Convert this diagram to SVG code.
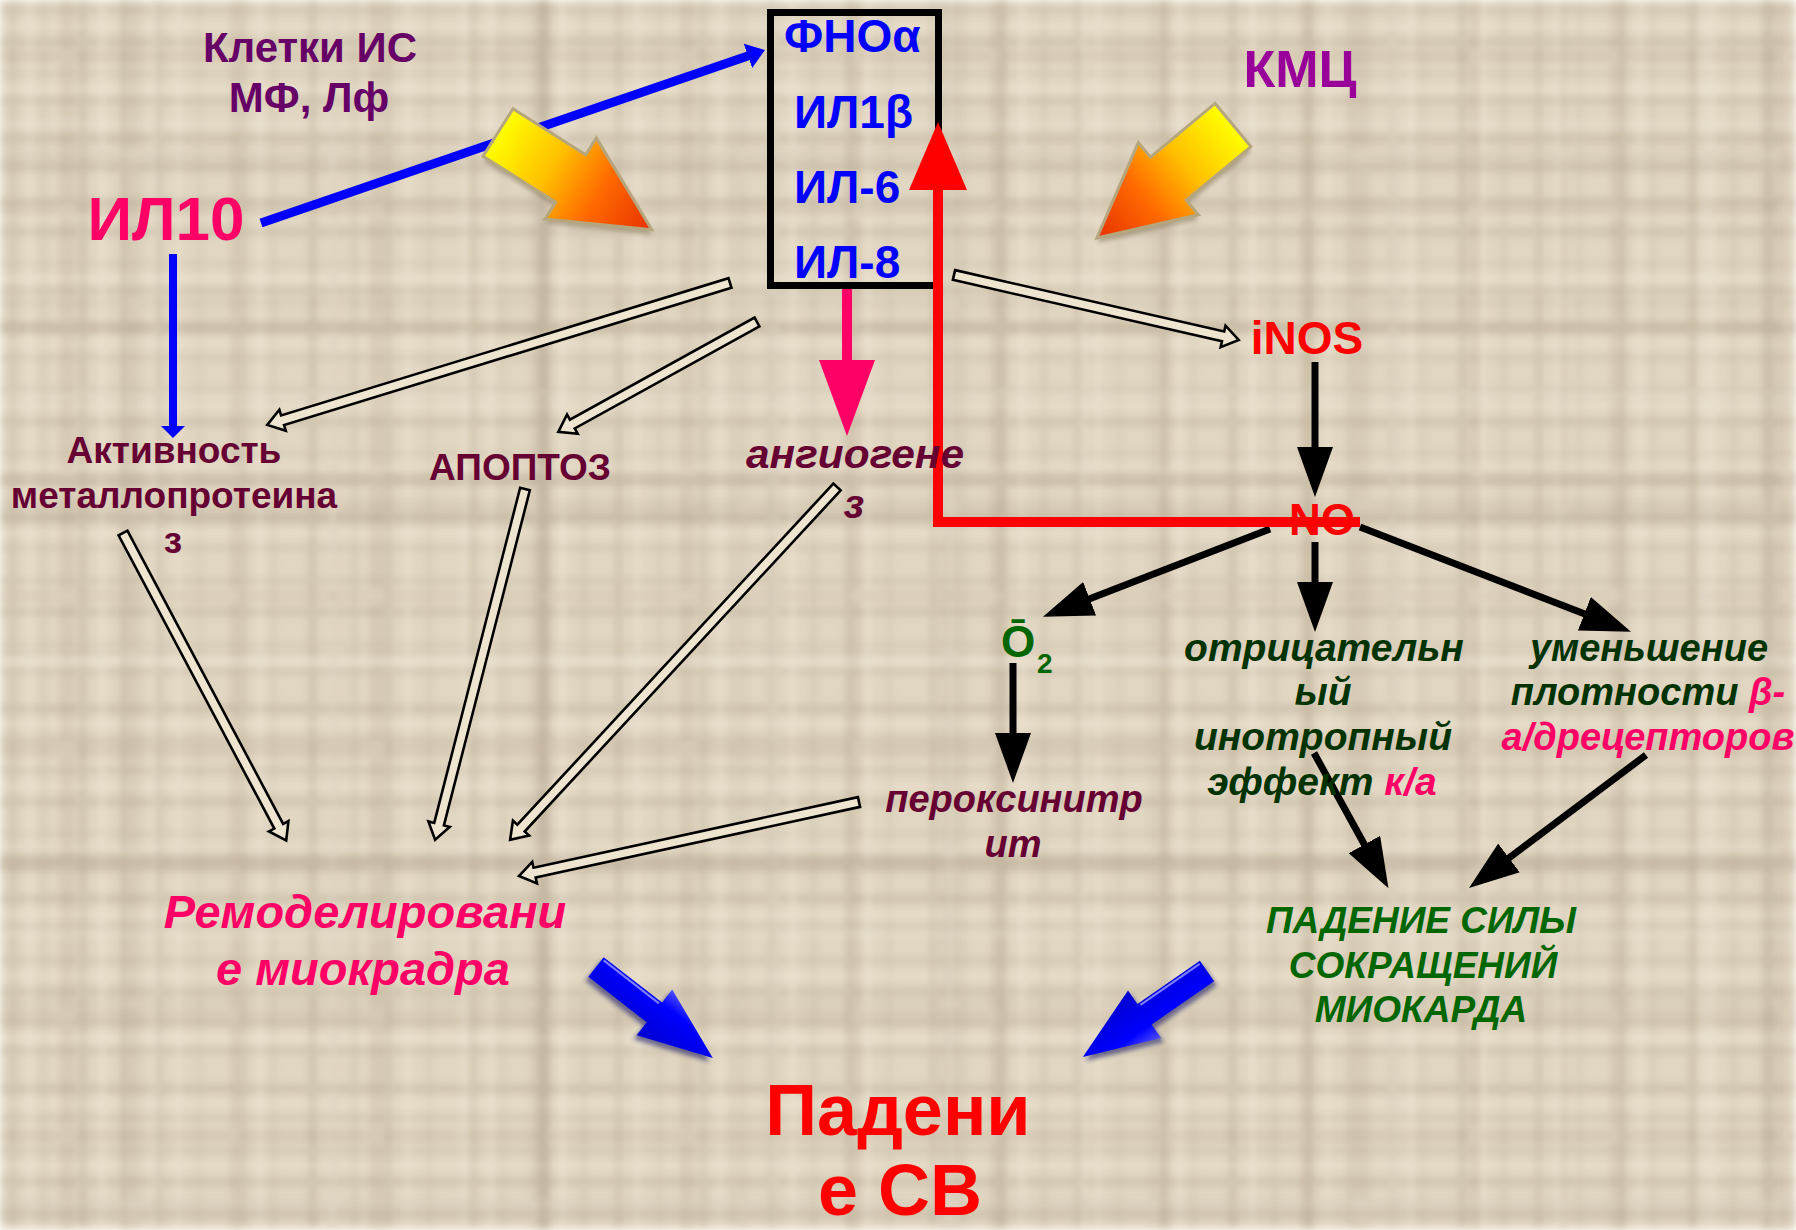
<svg xmlns="http://www.w3.org/2000/svg" width="1796" height="1230" viewBox="0 0 1796 1230">
<style>
text{font-family:"Liberation Sans",Arial,sans-serif;font-weight:bold}
.it{font-style:italic}
.mid{text-anchor:middle}
.hollow{fill:#EEE5D1;stroke:#000;stroke-width:2.6;stroke-linejoin:miter}
.blk{stroke:#000;stroke-width:7;fill:none}
</style>
<defs>
<pattern id="plaid" width="230" height="190" patternUnits="userSpaceOnUse">
<rect width="230" height="190" fill="#E1D6C1"/>
<g fill="#9F907A" opacity="0.26">
<rect x="10" y="0" width="6" height="190"/>
<rect x="42" y="0" width="3" height="190"/>
<rect x="78" y="0" width="9" height="190"/>
<rect x="122" y="0" width="4" height="190"/>
<rect x="155" y="0" width="7" height="190"/>
<rect x="198" y="0" width="3" height="190"/>
<rect x="0" y="8" width="230" height="5"/>
<rect x="0" y="38" width="230" height="8"/>
<rect x="0" y="72" width="230" height="3"/>
<rect x="0" y="98" width="230" height="6"/>
<rect x="0" y="134" width="230" height="9"/>
<rect x="0" y="166" width="230" height="4"/>
</g>
<g fill="#F4ECDD" opacity="0.5">
<rect x="28" y="0" width="4" height="190"/>
<rect x="100" y="0" width="5" height="190"/>
<rect x="176" y="0" width="4" height="190"/>
<rect x="0" y="24" width="230" height="4"/>
<rect x="0" y="86" width="230" height="5"/>
<rect x="0" y="152" width="230" height="4"/>
</g>
</pattern>
<pattern id="plaid2" width="310" height="270" patternUnits="userSpaceOnUse">
<g fill="#9E8F76" opacity="0.16">
<rect x="60" y="0" width="14" height="270"/>
<rect x="230" y="0" width="10" height="270"/>
<rect x="0" y="50" width="310" height="12"/>
<rect x="0" y="200" width="310" height="16"/>
</g>
<g fill="#F4ECDD" opacity="0.25">
<rect x="150" y="0" width="8" height="270"/>
<rect x="0" y="120" width="310" height="8"/>
</g>
</pattern>
<pattern id="plaid3" width="410" height="350" patternUnits="userSpaceOnUse">
<g fill="#8F8068" opacity="0.12">
<rect x="120" y="0" width="20" height="350"/>
<rect x="330" y="0" width="6" height="350"/>
<rect x="0" y="150" width="410" height="22"/>
<rect x="0" y="300" width="410" height="6"/>
</g>
</pattern>
<filter id="blur" x="0" y="0" width="1" height="1">
<feGaussianBlur stdDeviation="3.5"/>
</filter>
<filter id="soft" x="-20%" y="-20%" width="140%" height="140%">
<feGaussianBlur stdDeviation="2"/>
</filter>
<linearGradient id="fire" x1="0" y1="0" x2="1" y2="0">
<stop offset="0" stop-color="#FFFF00"/>
<stop offset="0.35" stop-color="#FFC000"/>
<stop offset="0.65" stop-color="#FF6A00"/>
<stop offset="1" stop-color="#E83000"/>
</linearGradient>
<linearGradient id="bluegrad" x1="0" y1="0" x2="0" y2="1">
<stop offset="0" stop-color="#5050FF"/>
<stop offset="0.3" stop-color="#0000FF"/>
<stop offset="1" stop-color="#0000D0"/>
</linearGradient>
<marker id="bh" markerUnits="userSpaceOnUse" markerWidth="50" markerHeight="36" refX="20" refY="18" orient="auto">
<path d="M0,0 L50,18 L0,36 Z" fill="#000"/>
</marker>
<marker id="bluehead" markerUnits="userSpaceOnUse" markerWidth="18" markerHeight="26" refX="6" refY="13" orient="auto">
<path d="M0,0 L18,13 L0,26 Z" fill="#0000FF"/>
</marker>
<marker id="bluehead2" markerUnits="userSpaceOnUse" markerWidth="12" markerHeight="24" refX="4" refY="12" orient="auto">
<path d="M0,0 L12,12 L0,24 Z" fill="#0000FF"/>
</marker>
</defs>

<g id="background">
<rect width="1796" height="1230" fill="url(#plaid)" filter="url(#blur)"/>
<rect width="1796" height="1230" fill="url(#plaid2)" filter="url(#blur)"/>
<rect width="1796" height="1230" fill="url(#plaid3)" filter="url(#blur)"/>
</g>

<g id="connectors">
<path class="hollow" transform="translate(730,283) rotate(162.95)" d="M0,-5 H468 V-11 L484,0 L468,11 V5 H0 Z"/>
<path class="hollow" transform="translate(757,322) rotate(151.07)" d="M0,-5 H211 V-11 L227,0 L211,11 V5 H0 Z"/>
<path class="hollow" transform="translate(954,275) rotate(12.85)" d="M0,-5 H276 V-11 L292,0 L276,11 V5 H0 Z"/>
<path class="hollow" transform="translate(123,533) rotate(62.03)" d="M0,-5 H332 V-11 L348,0 L332,11 V5 H0 Z"/>
<path class="hollow" transform="translate(525,489) rotate(104.38)" d="M0,-5 H346 V-11 L362,0 L346,11 V5 H0 Z"/>
<path class="hollow" transform="translate(837,487) rotate(132.81)" d="M0,-5 H465 V-11 L481,0 L465,11 V5 H0 Z"/>
<path class="hollow" transform="translate(859,802) rotate(167.72)" d="M0,-5 H332 V-11 L348,0 L332,11 V5 H0 Z"/>

<line x1="261" y1="223" x2="753.6" y2="53.9" stroke="#0000FF" stroke-width="9" marker-end="url(#bluehead)"/>
<line x1="173" y1="254" x2="173" y2="430" stroke="#0000FF" stroke-width="8" marker-end="url(#bluehead2)"/>

<line x1="847" y1="287" x2="847" y2="362" stroke="#FF0066" stroke-width="10"/>
<path d="M819,360 L875,360 L847,436 Z" fill="#FF0066"/>

<line class="blk" x1="1315" y1="362" x2="1315" y2="467" marker-end="url(#bh)"/>
<line class="blk" x1="1270" y1="529" x2="1071" y2="606" marker-end="url(#bh)"/>
<line class="blk" x1="1315" y1="542" x2="1315" y2="602" marker-end="url(#bh)"/>
<line class="blk" x1="1360" y1="527" x2="1603" y2="621" marker-end="url(#bh)"/>
<line class="blk" x1="1013" y1="663" x2="1013" y2="753" marker-end="url(#bh)"/>
<line class="blk" x1="1314" y1="753" x2="1374" y2="862" marker-end="url(#bh)"/>
<line class="blk" x1="1646" y1="755" x2="1493" y2="870" marker-end="url(#bh)"/>
</g>

<g id="fire-arrows">
<g transform="translate(498,132.5) rotate(32.3)">
<path d="M0,-28 H86 V-48 L182,0 L86,48 V28 H0 Z" fill="#7A6A50" opacity="0.45" transform="translate(3,4)" filter="url(#soft)"/>
<path d="M0,-28 H86 V-48 L182,0 L86,48 V28 H0 Z" fill="url(#fire)" stroke="#B5A67E" stroke-width="3" stroke-linejoin="miter"/>
</g>
<g transform="translate(1233,125) rotate(140.3)">
<path d="M0,-28 H84 V-47 L177,0 L84,47 V28 H0 Z" fill="#7A6A50" opacity="0.45" transform="translate(3,-4)" filter="url(#soft)"/>
<path d="M0,-28 H84 V-47 L177,0 L84,47 V28 H0 Z" fill="url(#fire)" stroke="#B5A67E" stroke-width="3" stroke-linejoin="miter"/>
</g>
</g>

<g id="blue-arrows">
<g transform="translate(596,967) rotate(37.9)">
<path d="M0,-12.5 H74 V-29 L148,0 L74,29 V12.5 H0 Z" fill="#20206A" opacity="0.6" transform="translate(0,5)" filter="url(#soft)"/>
<path d="M0,-12.5 H74 V-29 L148,0 L74,29 V12.5 H0 Z" fill="url(#bluegrad)"/>
<path d="M2,-10 H72" stroke="#8080FF" stroke-width="2" fill="none"/>
</g>
<g transform="translate(1207,971) rotate(145.3)">
<path d="M0,-12.5 H76 V-29 L151,0 L76,29 V12.5 H0 Z" fill="#20206A" opacity="0.6" transform="translate(0,-5)" filter="url(#soft)"/>
<path d="M0,-12.5 H76 V-29 L151,0 L76,29 V12.5 H0 Z" fill="url(#bluegrad)"/>
<path d="M2,10 H74" stroke="#8080FF" stroke-width="2" fill="none"/>
</g>
</g>

<g id="cytokines">
<rect x="770.5" y="12.5" width="168" height="273" fill="none" stroke="#000" stroke-width="7"/>
<text x="784" y="52" font-size="46" fill="#0000FF">ФНОα</text>
<text x="794" y="128" font-size="46" fill="#0000FF">ИЛ1β</text>
<text x="794" y="203" font-size="46" fill="#0000FF">ИЛ-6</text>
<text x="794" y="278" font-size="46" fill="#0000FF">ИЛ-8</text>
</g>

<g id="feedback-no">
<path d="M1360,522 H938 V188" fill="none" stroke="#FF0000" stroke-width="10"/>
<path d="M938,122 L909,190 L967,190 Z" fill="#FF0000"/>
</g>

<g id="cells-is">
<text class="mid" x="310" y="62" font-size="42" fill="#660066">Клетки ИС</text>
<text class="mid" x="309" y="112" font-size="42" fill="#660066">МФ, Лф</text>
</g>
<g id="il10"><text class="mid" x="166" y="240" font-size="62" fill="#FF0066">ИЛ10</text></g>
<g id="kmc"><text class="mid" x="1300" y="87" font-size="52" fill="#990099">КМЦ</text></g>
<g id="mmp">
<text class="mid" x="174" y="463" font-size="37" fill="#660033">Активность</text>
<text class="mid" x="174" y="508" font-size="37" fill="#660033">металлопротеина</text>
<text class="mid" x="173" y="553" font-size="37" fill="#660033">з</text>
</g>
<g id="apoptosis"><text class="mid" x="520" y="480" font-size="37" fill="#660033">АПОПТОЗ</text></g>
<g id="angiogenesis">
<text class="it" x="746" y="468" font-size="40" fill="#660033" textLength="218" lengthAdjust="spacingAndGlyphs">ангиогене</text>
<text class="it mid" x="854" y="518" font-size="40" fill="#660033">з</text>
</g>
<g id="inos"><text class="mid" x="1307" y="354" font-size="46" fill="#FF0000">iNOS</text></g>
<g id="no"><text class="mid" x="1322" y="535" font-size="44" fill="#FF0000">NO</text></g>
<g id="o2">
<text x="1001" y="657" font-size="44" fill="#006600">Ō</text>
<text x="1037" y="673" font-size="28" fill="#006600">2</text>
</g>
<g id="peroxynitrite">
<text class="it mid" x="1014" y="812" font-size="38" fill="#660033">пероксинитр</text>
<text class="it mid" x="1013" y="857" font-size="38" fill="#660033">ит</text>
</g>
<g id="inotropic">
<text class="it mid" x="1324" y="661" font-size="39" fill="#003300">отрицательн</text>
<text class="it mid" x="1323" y="705" font-size="39" fill="#003300">ый</text>
<text class="it mid" x="1323" y="750" font-size="39" fill="#003300">инотропный</text>
<text class="it mid" x="1322" y="795" font-size="39" fill="#003300">эффект <tspan fill="#FF0066">к/а</tspan></text>
</g>
<g id="beta-density">
<text class="it mid" x="1649" y="661" font-size="38" fill="#003300">уменьшение</text>
<text class="it mid" x="1648" y="705" font-size="38" fill="#003300">плотности <tspan fill="#FF0066">β-</tspan></text>
<text class="it mid" x="1648" y="750" font-size="38" fill="#FF0066">а/дрецепторов</text>
</g>
<g id="contractility">
<text class="it mid" x="1421" y="933" font-size="37" fill="#006600">ПАДЕНИЕ СИЛЫ</text>
<text class="it mid" x="1423" y="978" font-size="37" fill="#006600">СОКРАЩЕНИЙ</text>
<text class="it mid" x="1421" y="1022" font-size="37" fill="#006600">МИОКАРДА</text>
</g>
<g id="remodeling">
<text class="it mid" x="365" y="928" font-size="47" fill="#FF0066">Ремоделировани</text>
<text class="it mid" x="363" y="985" font-size="47" fill="#FF0066">е миокрадра</text>
</g>
<g id="cardiac-output">
<text class="mid" x="898" y="1135" font-size="72" fill="#FF0000">Падени</text>
<text class="mid" x="900" y="1215" font-size="72" fill="#FF0000">е СВ</text>
</g>
</svg>
